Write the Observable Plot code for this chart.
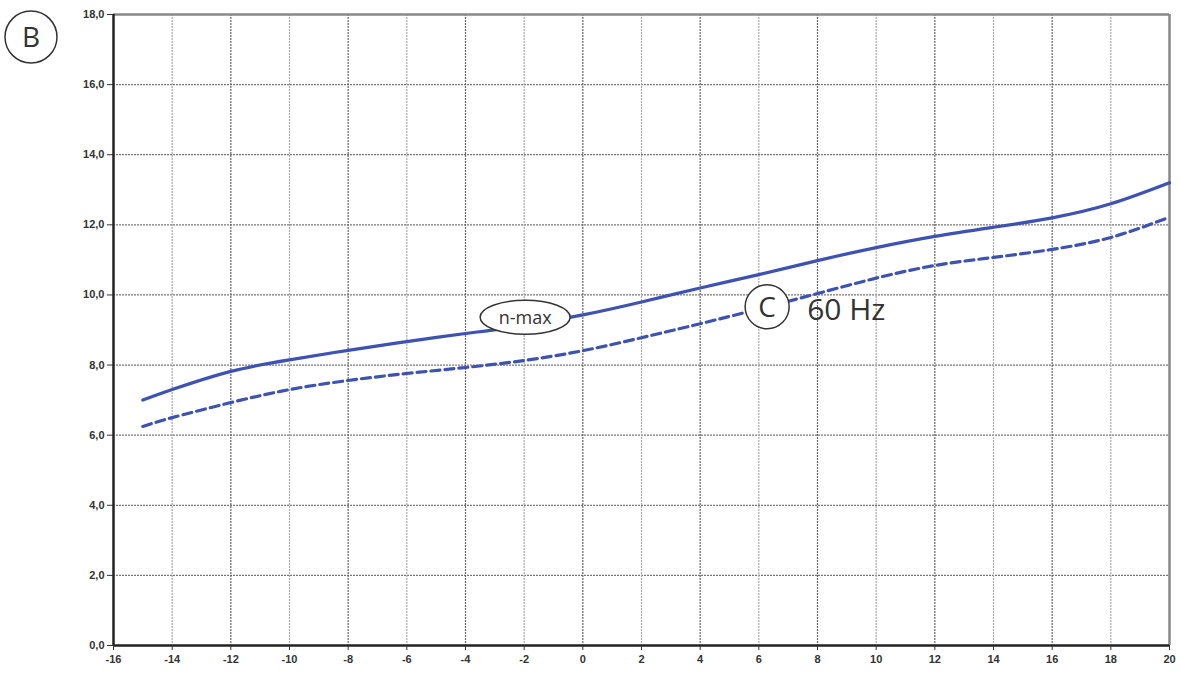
<!DOCTYPE html>
<html><head><meta charset="utf-8">
<script src="https://cdn.jsdelivr.net/npm/d3@7"></script>
<script src="https://cdn.jsdelivr.net/npm/@observablehq/plot@0.6"></script>
<style>
body{margin:0;background:#fff;}
#chart{position:relative;width:1181px;height:675px;}
svg{font-family:Arial,"Liberation Sans",sans-serif;}
</style></head><body><div id="chart"></div>
<script>
const xs = [-15,-14,-12,-10,-8,-6,-4,-2,0,2,4,6,8,10,12,14,16,18,20];
const nMax = [7.0,7.3,7.82,8.15,8.42,8.67,8.9,9.13,9.43,9.8,10.2,10.58,10.98,11.35,11.67,11.93,12.2,12.6,13.2];
const hz60 = [6.25,6.5,6.93,7.3,7.56,7.76,7.93,8.13,8.41,8.78,9.18,9.6,10.04,10.48,10.84,11.07,11.3,11.64,12.22];
const xTicks = d3.range(-16,21,2);
const yTicks = d3.range(0,19,2);
const labels = {b:"B", c:"C", hz:"60 Hz", nmax:"n-max"};

const solid = xs.map((x,i)=>({x, y:nMax[i]}));
const dashed = xs.map((x,i)=>({x, y:hz60[i]}));
const blue = "#3d52b3";
const fmtY = d => d.toFixed(1).replace(".", ",");

const plot = Plot.plot({
  width:1181, height:675,
  marginLeft:113, marginRight:12, marginTop:14, marginBottom:30,
  x:{domain:[-16,20], label:null},
  y:{domain:[0,18], label:null},
  style:{fontSize:"11px", color:"#333"},
  marks:[
    Plot.ruleY(yTicks.filter(d=>d>0&&d<18), {stroke:"#777", strokeWidth:1.2, strokeDasharray:"2,1"}),
    Plot.ruleX(xTicks.filter(d=>d>-16&&d<20 && d%4!==0), {stroke:"#aaa", strokeWidth:1.2, strokeDasharray:"2,1"}),
    Plot.ruleX(xTicks.filter(d=>d>-16&&d<20 && d%4===0), {stroke:"#666", strokeWidth:1.2, strokeDasharray:"2,1"}),
    Plot.ruleY([18], {stroke:"#888", strokeWidth:2.5}),
    Plot.ruleX([20], {stroke:"#888", strokeWidth:2.5}),
    Plot.ruleY([0], {stroke:"#222", strokeWidth:2.5}),
    Plot.ruleX([-16], {stroke:"#222", strokeWidth:2.5}),
    Plot.line(solid, {x:"x", y:"y", stroke:blue, strokeWidth:3.2, curve:"natural"}),
    Plot.line(dashed, {x:"x", y:"y", stroke:blue, strokeWidth:3.2, curve:"natural", strokeDasharray:"9,5"}),
    Plot.axisX({ticks:xTicks, tickFormat:d=>String(d), tickSize:5, tickPadding:5, fontSize:11, fill:"#333", fontWeight:"bold", label:null}),
    Plot.axisY({ticks:yTicks, tickFormat:fmtY, tickSize:6, tickPadding:3, fontSize:11, fill:"#333", fontWeight:"bold", label:null})
  ]
});
document.getElementById("chart").appendChild(plot);

// annotations positioned through the plot scales
const sx = plot.scale("x"), sy = plot.scale("y");
const svg = d3.select(plot);
const ann = svg.append("g").attr("font-family","'Open Sans',Lato,sans-serif").attr("fill","#333").attr("text-anchor","start");
// n-max ellipse
const ex = sx.apply(-1.95), ey = sy.apply(9.35);
ann.append("ellipse").attr("cx",ex).attr("cy",ey).attr("rx",45).attr("ry",17)
  .attr("fill","#fff").attr("stroke","#333").attr("stroke-width",1.5);
ann.append("text").attr("x",ex).attr("y",ey).attr("text-anchor","middle").attr("dy","0.35em")
  .attr("font-size",18).text(labels.nmax);
// C circle + 60 Hz
const cx = sx.apply(6.3), cy = sy.apply(9.65);
ann.append("circle").attr("cx",cx).attr("cy",cy).attr("r",22).attr("fill","#fff").attr("stroke","#333").attr("stroke-width",1.5);
ann.append("text").attr("x",cx).attr("y",cy).attr("text-anchor","middle").attr("dy","0.36em").attr("font-size",28).text(labels.c);
ann.append("text").attr("x",cx+40).attr("y",cy+2).attr("text-anchor","start").attr("dy","0.36em").attr("font-size",30).text(labels.hz);
// B circle
ann.append("circle").attr("cx",31).attr("cy",37).attr("r",26).attr("fill","#fff").attr("stroke","#333").attr("stroke-width",1.5);
ann.append("text").attr("x",31).attr("y",37).attr("text-anchor","middle").attr("dy","0.36em").attr("font-size",28).text(labels.b);
</script></body></html>
